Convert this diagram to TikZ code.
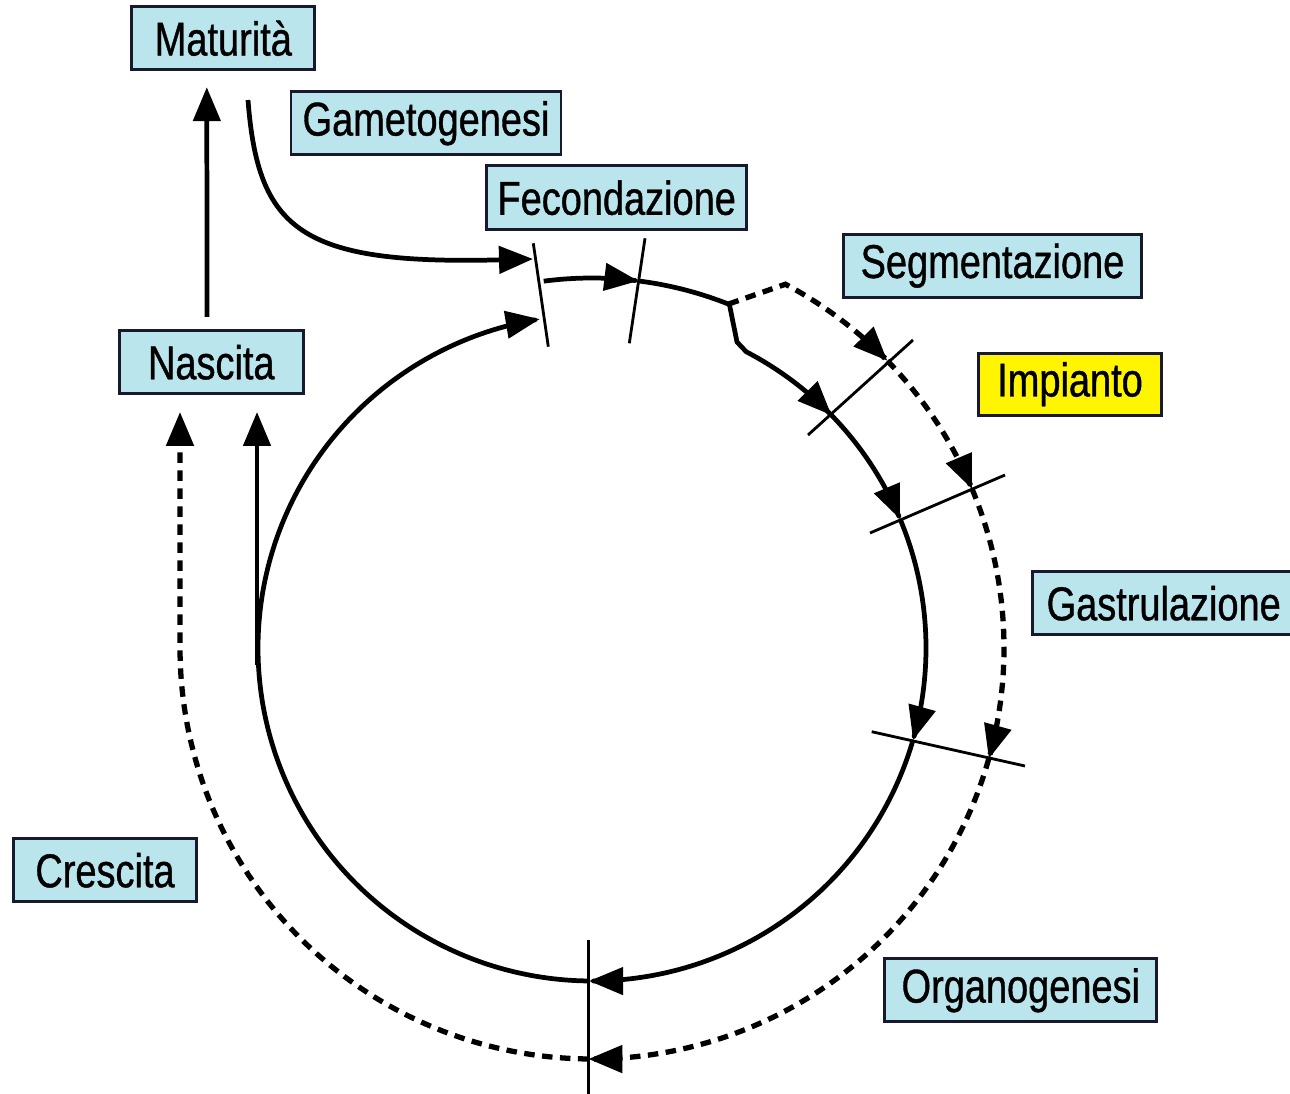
\documentclass[tikz,border=0pt]{standalone}
\usepackage{fontspec}
\setmainfont{Liberation Sans}[FakeStretch=0.8,FakeBold=0.8]
\usetikzlibrary{arrows.meta}
\definecolor{boxcyan}{RGB}{186,229,237}
\definecolor{boxyellow}{RGB}{255,245,0}
\definecolor{boxline}{RGB}{25,25,45}
\tikzset{
  lbl/.style={draw=boxline, line width=1.6pt, fill=boxcyan, inner sep=0pt,
    font=\fontsize{27pt}{32pt}\selectfont, text=black},
  tipend/.style={-{Triangle[length=0.68cm,width=0.54cm]}},
  solidln/.style={line width=2.7pt, line join=round},
  dashln/.style={line width=3pt, dash pattern=on 0.21cm off 0.15cm},
  tickln/.style={line width=1.6pt},
}
\begin{document}
\begin{tikzpicture}[x=0.02cm,y=-0.02cm]
\useasboundingbox (0,0) rectangle (1290,1094);

% labels
\node[lbl, minimum width=3.66cm, minimum height=1.26cm] (mat) at (223.3,38.3) {Maturità};
\node[lbl, minimum width=5.4cm, minimum height=1.26cm] (game) at (426,123.3) {Gametogenesi};
\node[lbl, minimum width=5.2cm, minimum height=1.28cm] (fec) at (616.7,197.8) {Fecondazione};
\node[lbl, minimum width=5.96cm, minimum height=1.26cm] (seg) at (992.5,265.7) {Segmentazione};
\node[lbl, fill=boxyellow, minimum width=3.66cm, minimum height=1.24cm] (imp) at (1070,384.2) {Impianto};
\node[lbl, minimum width=5.24cm, minimum height=1.26cm] (gas) at (1163.7,603.3) {Gastrulazione};
\node[lbl, minimum width=3.68cm, minimum height=1.26cm] (nas) at (211.3,362.3) {Nascita};
\node[lbl, minimum width=3.66cm, minimum height=1.26cm] (cre) at (105,870.3) {Crescita};
\node[lbl, minimum width=5.44cm, minimum height=1.26cm] (org) at (1020.8,990.3) {Organogenesi};

% tick coordinates
\coordinate (t1a) at (533.3,243.3); \coordinate (t1b) at (548.3,346.7);
\coordinate (t2a) at (645,238.3);   \coordinate (t2b) at (629.3,343.3);
\coordinate (t3a) at (808,435);     \coordinate (t3b) at (913,340);
\coordinate (t4a) at (870,533);     \coordinate (t4b) at (1005,475);
\coordinate (t5a) at (871.7,731.7); \coordinate (t5b) at (1025,766);
\coordinate (t6a) at (588.3,940);   \coordinate (t6b) at (588.3,1096);

% other named points
\coordinate (gstart) at (248,100);
\coordinate (gend) at (533,259);
\coordinate (jogtop) at (728.6,304);
\coordinate (jogbot) at (737,342);
\coordinate (nsolid) at (257,412);
\coordinate (nsolidbase) at (257,665);
\coordinate (ndash) at (180,412);

% ticks
\draw[tickln] (t1a) -- (t1b);
\draw[tickln] (t2a) -- (t2b);
\draw[tickln] (t3a) -- (t3b);
\draw[tickln] (t4a) -- (t4b);
\draw[tickln] (t5a) -- (t5b);
\draw[tickln] (t6a) -- (t6b);

% Nascita -> Maturita
\draw[solidln, tipend] ([xshift=-0.086cm,yshift=0.25cm]nas.north) -- ([xshift=-0.33cm,yshift=-0.32cm]mat.south);

% Gametogenesi curve
\draw[solidln, tipend] (gstart) .. controls (258,230) and (300,265) .. (gend);

% top arc (fecondazione)
\draw[solidln, tipend] plot[domain=-97.5:-82.8, samples=30, variable=\t] ({592+370*cos(\t)},{648+370*sin(\t)});
\draw[solidln, tipend] plot[domain=-82.8:-68.2, samples=30, variable=\t] ({592+370*cos(\t)},{648+370*sin(\t)})
  -- (jogbot) -- plot[domain=-62.5:-44.2, samples=40, variable=\t] ({592+334*cos(\t)},{648+334*sin(\t)});

% inner circle
\draw[solidln, tipend] plot[domain=-44.2:-22.7, samples=40, variable=\t] ({592+334*cos(\t)},{648+334*sin(\t)});
\draw[solidln, tipend] plot[domain=-22.7:16, samples=60, variable=\t] ({592+334*cos(\t)},{648+334*sin(\t)});
\draw[solidln, tipend] plot[domain=16:90.5, samples=100, variable=\t] ({592+334*cos(\t)},{648+333*sin(\t)});
\draw[solidln, tipend] plot[domain=90.5:261, samples=200, variable=\t] ({592+334*cos(\t)},{648+333*sin(\t)});
\draw[solidln, tipend] (nsolidbase) -- (nsolid);

% outer dashed
\draw[dashln, tipend] (jogtop) -- plot[domain=-62:-44.2, samples=40, variable=\t] ({592+412*cos(\t)},{648+412*sin(\t)});
\draw[dashln, tipend] plot[domain=-44.2:-22.7, samples=40, variable=\t] ({592+412*cos(\t)},{648+412*sin(\t)});
\draw[dashln, tipend] plot[domain=-22.7:15.6, samples=60, variable=\t] ({592+412*cos(\t)},{648+412*sin(\t)});
\draw[dashln, tipend] plot[domain=15.6:90.5, samples=100, variable=\t] ({592+412*cos(\t)},{648+411*sin(\t)});
\draw[dashln, tipend] plot[domain=90.5:180, samples=100, variable=\t] ({592+412*cos(\t)},{648+411*sin(\t)}) -- (ndash);
\end{tikzpicture}
\end{document}
